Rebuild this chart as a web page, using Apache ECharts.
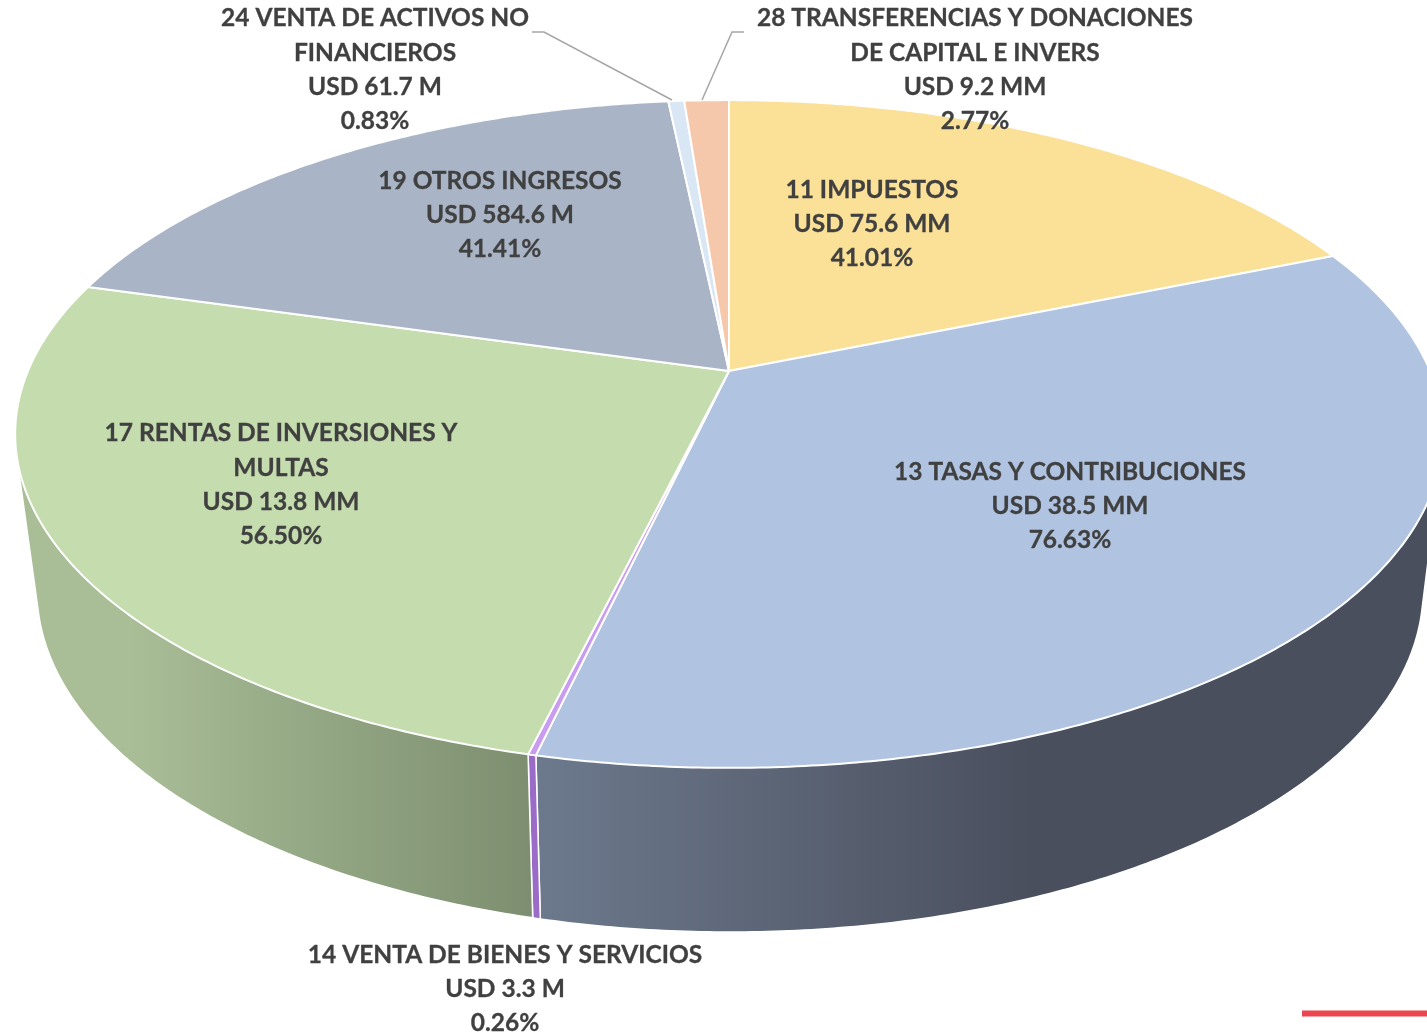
<!DOCTYPE html>
<html lang="es">
<head>
  <meta charset="UTF-8">
  <title>Ingresos por rubro</title>
  <style>
    html, body { margin: 0; padding: 0; background: #fff; }
    #echart { width: 1427px; height: 1033px; }
  </style>
</head>
<body>
  <div id="echart"></div>
  <script src="https://cdn.jsdelivr.net/npm/echarts@6/dist/echarts.min.js"></script>
  <script>
    // data: share = size of the slice (% of the circle)
    var categories = [
      '11 IMPUESTOS',
      '13 TASAS Y CONTRIBUCIONES',
      '14 VENTA DE BIENES Y SERVICIOS',
      '17 RENTAS DE INVERSIONES Y\nMULTAS',
      '19 OTROS INGRESOS',
      '24 VENTA DE ACTIVOS NO\nFINANCIEROS',
      '28 TRANSFERENCIAS Y DONACIONES\nDE CAPITAL E INVERS'
    ];
    var shares = [18.75, 34.86, 0.15, 25.67, 18.93, 0.43, 1.21];
    var amounts = ['USD 75.6 MM', 'USD 38.5 MM', 'USD 3.3 M', 'USD 13.8 MM', 'USD 584.6 M', 'USD 61.7 M', 'USD 9.2 MM'];
    var percents = ['41.01%', '76.63%', '0.26%', '56.50%', '41.41%', '0.83%', '2.77%'];

    var topColors = ['#fbe198', '#b0c4e2', '#c99cf0', '#c4dcae', '#a9b5c6', '#d9e6f3', '#f5c8ac'];
    var wallColors = [
      ['#b09d6a', '#b09d6a'],
      ['#6c798c', '#4a4f5e'],
      ['#9a6cc8', '#9a6cc8'],
      ['#a9bd97', '#7c8e6f'],
      ['#767f8b', '#767f8b'],
      ['#98a1aa', '#98a1aa'],
      ['#ac8c78', '#ac8c78']
    ];
    var wallRanges = [[0, 1427], [540, 1030], [0, 1427], [130, 535], [0, 1427], [0, 1427], [0, 1427]];

    // centre of each text block
    var labelPos = [[872, 224], [1070, 506], [505, 989], [281, 485], [500, 215], [375, 70], [975, 70]];

    // the two faces of the drum, with the perspective of the original 3D pie
    var topFace = { x: 729, y: 371, a: 701, s: 322, k: 0.1886 };
    var lowFace = { x: 730, y: 522, a: 679, s: 328, k: 0.2 };

    var angles = [0];
    shares.forEach(function (s, i) {
      angles.push(angles[i] + s * 3.6);
    });

    function project(face, deg) {
      var r = deg * Math.PI / 180;
      var u = Math.sin(r), v = Math.cos(r);
      var w = 1 + face.k * v;
      return [face.x + face.a * u / w, face.y - face.s * v / w];
    }

    function arc(face, from, to) {
      var pts = [];
      var n = Math.max(2, Math.ceil((to - from) * 2));
      for (var i = 0; i <= n; i++) {
        pts.push(project(face, from + (to - from) * i / n));
      }
      return pts;
    }

    // monotone chain, the drum's outline is the hull of its two faces
    function hull(points) {
      var pts = points.slice().sort(function (a, b) { return a[0] - b[0] || a[1] - b[1]; });
      function cross(o, a, b) {
        return (a[0] - o[0]) * (b[1] - o[1]) - (a[1] - o[1]) * (b[0] - o[0]);
      }
      function half(list) {
        var out = [];
        list.forEach(function (p) {
          while (out.length > 1 && cross(out[out.length - 2], out[out.length - 1], p) <= 0) out.pop();
          out.push(p);
        });
        out.pop();
        return out;
      }
      return half(pts).concat(half(pts.slice().reverse()));
    }

    function renderWall(params) {
      var i = params.dataIndex;
      var pts = hull(arc(topFace, angles[i], angles[i + 1]).concat(arc(lowFace, angles[i], angles[i + 1])));
      return {
        type: 'polygon',
        shape: { points: pts },
        style: {
          fill: new echarts.graphic.LinearGradient(wallRanges[i][0], 0, wallRanges[i][1], 0, [
            { offset: 0, color: wallColors[i][0] },
            { offset: 1, color: wallColors[i][1] }
          ], true),
          stroke: '#fff',
          lineWidth: 1.5
        }
      };
    }

    function renderTop(params) {
      var i = params.dataIndex;
      var pts = [[topFace.x, topFace.y]].concat(arc(topFace, angles[i], angles[i + 1]));
      return {
        type: 'polygon',
        shape: { points: pts },
        style: { fill: topColors[i], stroke: '#fff', lineWidth: 2, lineJoin: 'round' }
      };
    }

    function renderLabel(params) {
      var i = params.dataIndex;
      return {
        type: 'text',
        style: {
          x: labelPos[i][0],
          y: labelPos[i][1],
          text: categories[i] + '\n' + amounts[i] + '\n' + percents[i],
          fill: '#404040',
          stroke: '#404040',
          lineWidth: 0.3,
          font: 'bold 24.5px Lato',
          lineHeight: 34.3,
          textAlign: 'center',
          textVerticalAlign: 'middle'
        }
      };
    }

    var option = {
      animation: false,
      backgroundColor: '#fff',
      series: [
        { type: 'custom', coordinateSystem: 'none', silent: true, clip: false, data: shares, renderItem: renderWall, z: 1 },
        { type: 'custom', coordinateSystem: 'none', silent: true, clip: false, data: shares, renderItem: renderTop, z: 2 },
        { type: 'custom', coordinateSystem: 'none', silent: true, clip: false, data: shares, renderItem: renderLabel, z: 4 }
      ],
      graphic: [
        { type: 'polyline', z: 3, shape: { points: [[532, 32], [544, 32], [672, 100]] }, style: { stroke: '#a6a6a6', lineWidth: 1.5, fill: null } },
        { type: 'polyline', z: 3, shape: { points: [[744, 32], [732, 32], [702, 100]] }, style: { stroke: '#a6a6a6', lineWidth: 1.5, fill: null } },
        { type: 'rect', z: 3, shape: { x: 1302, y: 1010.5, width: 125, height: 6 }, style: { fill: '#ec4550' } }
      ]
    };

    var myChart = echarts.init(document.getElementById('echart'));
    myChart.setOption(option);
  </script>
</body>
</html>
